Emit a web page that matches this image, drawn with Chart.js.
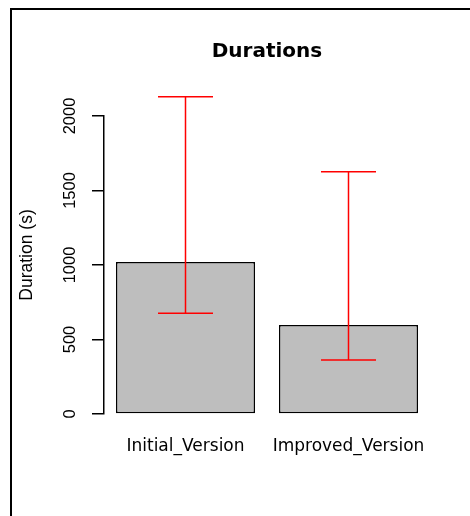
<!DOCTYPE html>
<html>
<head>
<meta charset="utf-8">
<script src="https://cdn.jsdelivr.net/npm/chart.js@4"></script>
<style>
  html, body { margin: 0; padding: 0; background: #fff; overflow: hidden; }
</style>
</head>
<body>
<canvas id="chart" width="470" height="516"></canvas>
<script>
// data
var categories = ['Initial_Version', 'Improved_Version'];
var durations  = [1020, 597];
var errLow     = [677, 362];
var errHigh    = [2130, 1626];
var yMin = 0, yMax = 2000, yStep = 500;

// outer device frame (only left and top edges are inside the picture)
var frame = {
    id: 'frame',
    beforeDraw: function(chart) {
        var ctx = chart.ctx;
        ctx.save();
        ctx.fillStyle = '#fff';
        ctx.fillRect(0, 0, chart.width, chart.height);
        ctx.fillStyle = '#000';
        ctx.fillRect(10, 8, 2, chart.height - 8);
        ctx.fillRect(10, 8, chart.width - 10, 2);
        ctx.restore();
    }
};

// red error bars with caps
var errorBars = {
    id: 'errorBars',
    afterDatasetsDraw: function(chart) {
        var ctx = chart.ctx;
        var y = chart.scales.y;
        var meta = chart.getDatasetMeta(0);
        ctx.save();
        ctx.strokeStyle = '#ff0000';
        ctx.lineWidth = 1.5;
        meta.data.forEach(function(bar, i) {
            var x = bar.x;
            var lo = y.getPixelForValue(errLow[i]);
            var hi = y.getPixelForValue(errHigh[i]);
            ctx.beginPath();
            ctx.moveTo(x, lo); ctx.lineTo(x, hi);
            ctx.moveTo(x - 27.5, lo); ctx.lineTo(x + 27.5, lo);
            ctx.moveTo(x - 27.5, hi); ctx.lineTo(x + 27.5, hi);
            ctx.stroke();
        });
        ctx.restore();
    }
};

// R-style y label, centred on the plot region
var yLabel = {
    id: 'yLabel',
    afterDraw: function(chart) {
        var ctx = chart.ctx;
        ctx.save();
        ctx.translate(27, 255);
        ctx.rotate(-Math.PI / 2);
        ctx.font = '17.5px "Liberation Sans"';
        ctx.fillStyle = '#000';
        ctx.textAlign = 'center';
        ctx.textBaseline = 'middle';
        ctx.fillText('Duration (s)', 0, 0);
        ctx.restore();
    }
};

Chart.defaults.color = '#000';

new Chart(document.getElementById('chart'), {
    type: 'bar',
    data: {
        labels: categories,
        datasets: [{
            data: durations,
            backgroundColor: '#bebebe',
            borderColor: '#000',
            borderWidth: 1.5,
            borderSkipped: false,
            categoryPercentage: 1,
            barPercentage: 0.853
        }]
    },
    options: {
        responsive: false,
        animation: false,
        devicePixelRatio: 1,
        layout: { padding: { left: 0, right: 40, top: 40, bottom: 0 } },
        plugins: {
            legend: { display: false },
            tooltip: { enabled: false },
            title: {
                display: true,
                text: 'Durations',
                fullSize: false,
                font: { family: 'DejaVu Sans', size: 20, weight: 'bold', lineHeight: 1.2 },
                padding: { top: 0, bottom: 52 }
            }
        },
        scales: {
            x: {
                grid: { display: false },
                border: { display: false },
                ticks: { font: { family: 'DejaVu Sans', size: 17 }, padding: 14 },
                afterFit: function(s) { s.height = 102; }
            },
            y: {
                min: yMin,
                max: yMax,
                border: { display: true, color: '#000', width: 1.5 },
                grid: { drawOnChartArea: false, drawTicks: true, tickLength: 12, color: '#000', lineWidth: 1.5 },
                ticks: {
                    stepSize: yStep,
                    autoSkip: false,
                    minRotation: 90,
                    maxRotation: 90,
                    crossAlign: 'center',
                    padding: 3,
                    font: { family: 'Liberation Sans', size: 16.5 },
                    callback: function(v) { return String(v); }
                },
                afterFit: function(s) { s.width = 104; }
            }
        }
    },
    plugins: [frame, errorBars, yLabel]
});
</script>
</body>
</html>
